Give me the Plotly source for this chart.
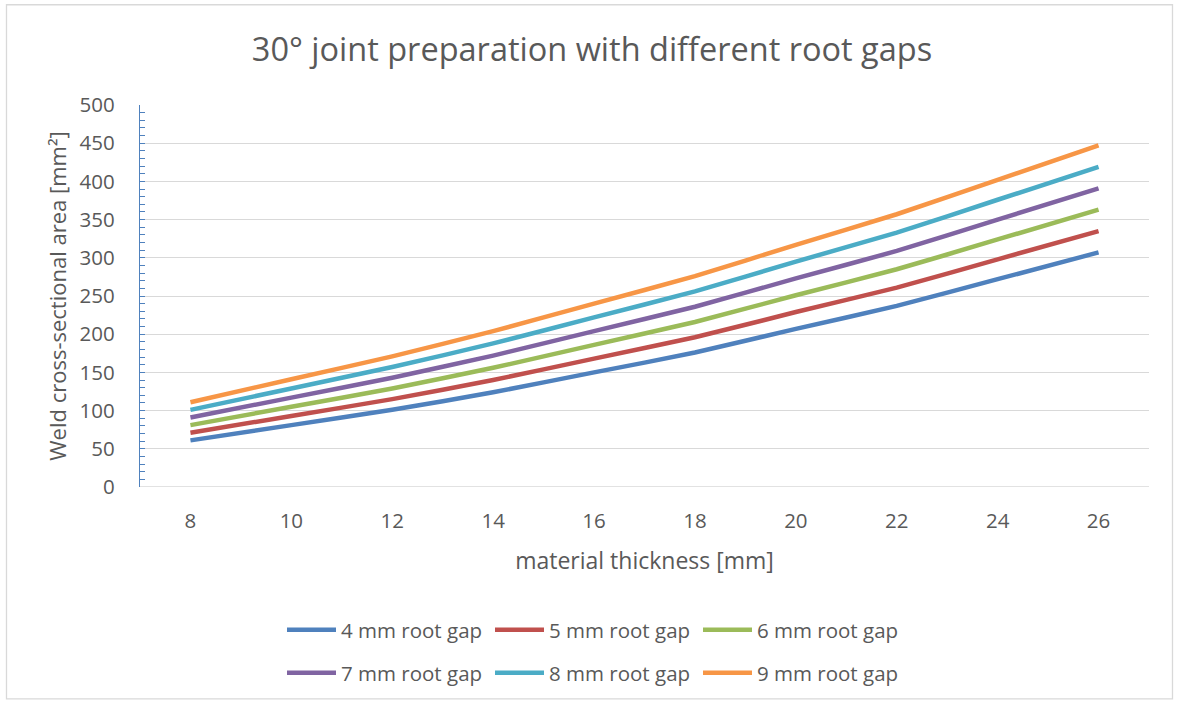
import plotly.graph_objects as go

# Material thickness [mm]
thickness = [8, 10, 12, 14, 16, 18, 20, 22, 24, 26]

# Weld cross-sectional area [mm²] for each root gap
gap_4mm = [61, 81, 101, 124, 150, 176, 207, 237, 272, 307]
gap_5mm = [71, 93, 115, 140, 168, 196, 229, 261, 298, 335]
gap_6mm = [81, 105, 129, 156, 186, 216, 251, 285, 324, 363]
gap_7mm = [91, 117, 143, 172, 204, 236, 273, 309, 350, 391]
gap_8mm = [101, 129, 157, 188, 222, 256, 295, 333, 376, 419]
gap_9mm = [111, 141, 171, 204, 240, 276, 317, 357, 402, 447]

series_names = ["4 mm root gap", "5 mm root gap", "6 mm root gap",
                "7 mm root gap", "8 mm root gap", "9 mm root gap"]
series_values = [gap_4mm, gap_5mm, gap_6mm, gap_7mm, gap_8mm, gap_9mm]
series_colors = ["#4F81BD", "#C0504D", "#9BBB59", "#8064A2", "#4BACC6", "#F79646"]

FONT = "Open Sans"
TEXT = "#595959"

W, H = 1179, 704
L, R, T, B = 140, 30, 105, 216
plot_w = W - L - R
plot_h = H - T - B

fig = go.Figure()
for i, (name, vals, col) in enumerate(zip(series_names, series_values, series_colors)):
    fig.add_trace(go.Scatter(
        x=thickness, y=vals, name=name, mode="lines",
        line=dict(color=col, width=4.5, shape="spline", smoothing=0.5),
        legend="legend" if i < 3 else "legend2",
    ))

def px_to_paper_x(px):
    return (px - L) / plot_w

def px_to_paper_y(py):
    return (H - B - py) / plot_h

legend_common = dict(
    orientation="h", xanchor="left", yanchor="middle",
    font=dict(family=FONT, size=20.5, color=TEXT),
    entrywidth=144, entrywidthmode="pixels",
    bgcolor="rgba(0,0,0,0)", itemwidth=49, tracegroupgap=0,
)

fig.update_layout(
    width=W, height=H,
    margin=dict(l=L, r=R, t=T, b=B),
    paper_bgcolor="white", plot_bgcolor="white",
    font=dict(family=FONT, color=TEXT),
    title=dict(text="30° joint preparation with different root gaps",
               font=dict(family=FONT, size=32.5, color=TEXT),
               x=592 / W, xanchor="center", xref="container",
               y=1 - 50 / H, yanchor="middle", yref="container"),
    xaxis=dict(
        range=[7, 27], tickvals=thickness, ticktext=[str(t) for t in thickness],
        showgrid=False, zeroline=False, showline=False, ticks="",
        tickfont=dict(family=FONT, size=20.5, color=TEXT),
        ticklabelstandoff=19,
        title=dict(text="material thickness [mm]", standoff=20,
                   font=dict(family=FONT, size=23, color=TEXT)),
        fixedrange=True,
    ),
    yaxis=dict(
        range=[0, 500], dtick=50, tick0=0,
        showgrid=True, gridcolor="#D9D9D9", gridwidth=1.3,
        zeroline=False, showline=True, linecolor="#4F81BD", linewidth=1.3,
        ticks="inside", ticklen=5, tickcolor="#4F81BD", tickwidth=1.3,
        minor=dict(dtick=10, ticks="inside", ticklen=5, tickcolor="#4F81BD",
                   tickwidth=1.3, showgrid=False),
        tickfont=dict(family=FONT, size=20.5, color=TEXT),
        ticklabelstandoff=20,
        title=dict(text="Weld cross-sectional area [mm²]", standoff=6,
                   font=dict(family=FONT, size=22, color=TEXT)),
        fixedrange=True,
    ),
    legend=dict(x=px_to_paper_x(282), y=px_to_paper_y(630), **legend_common),
    legend2=dict(x=px_to_paper_x(282), y=px_to_paper_y(673), **legend_common),
    shapes=[
        # bottom gridline at zero
        dict(type="line", xref="paper", yref="y", x0=0, x1=1, y0=0, y1=0,
             line=dict(color="#D9D9D9", width=1.3), layer="below"),
        # chart-area border
        dict(type="rect", xref="paper", yref="paper",
             x0=px_to_paper_x(6.5), x1=px_to_paper_x(1172.5),
             y0=px_to_paper_y(700.5), y1=px_to_paper_y(4.5),
             line=dict(color="#D9D9D9", width=1.3), fillcolor="rgba(0,0,0,0)"),
    ],
)

fig.write_html("out.html", config={"displayModeBar": False})
